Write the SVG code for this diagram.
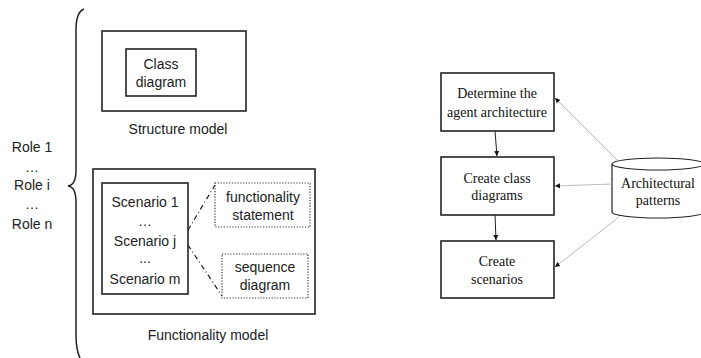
<svg xmlns="http://www.w3.org/2000/svg" width="701" height="358" viewBox="0 0 701 358">
<style>
.s{font-family:"Liberation Sans","Open Sans",sans-serif;font-size:14px;fill:#222;text-anchor:middle}
.t{font-family:"Liberation Serif","Times New Roman",serif;font-size:14px;fill:#111;text-anchor:middle}
.box{fill:#fff;stroke:#222;stroke-width:1.6}
.dot{fill:none;stroke:#333;stroke-width:1.2;stroke-dasharray:1.2 1.6}
.dd{fill:none;stroke:#222;stroke-width:1.2;stroke-dasharray:5 3 1 3}
.blk{fill:none;stroke:#222;stroke-width:1}
.gry{fill:none;stroke:#aaa;stroke-width:0.8}
</style>
<defs>
<marker id="ab" markerWidth="6" markerHeight="6" refX="5" refY="3" orient="auto" markerUnits="userSpaceOnUse"><path d="M0,0.5 L5,3 L0,5.5z" fill="#111"/></marker>
</defs>
<rect width="701" height="358" fill="#fff"/>
<g id="brace"><path d="M84,9 Q76,12 76,30 L76,170 Q76,185 68,186 Q76,187 76,202 L76,335 Q76,350 80,358" fill="none" stroke="#222" stroke-width="1.5"/></g>
<g id="roles">
<text class="s" x="32" y="152">Role 1</text>
<text class="s" x="32" y="172">…</text>
<text class="s" x="32" y="190">Role i</text>
<text class="s" x="32" y="209">…</text>
<text class="s" x="32" y="229">Role n</text>
</g>
<g id="structure">
<rect class="box" x="102" y="31" width="144" height="80"/>
<rect class="box" x="126" y="49" width="70" height="47"/>
<text class="s" x="161" y="69">Class</text>
<text class="s" x="161" y="87">diagram</text>
<text class="s" x="178" y="134">Structure model</text>
</g>
<g id="functionality">
<rect class="box" x="93" y="169" width="222" height="145"/>
<rect class="box" x="102" y="183" width="86" height="111"/>
<text class="s" x="145" y="207">Scenario 1</text>
<text class="s" x="145" y="226">…</text>
<text class="s" x="145" y="246">Scenario j</text>
<text class="s" x="145" y="263">...</text>
<text class="s" x="145" y="284">Scenario m</text>
<text class="s" x="208" y="340">Functionality model</text>
</g>
<g id="fstatement">
<rect class="dot" x="215" y="183" width="95" height="44"/>
<text class="s" x="263" y="202">functionality</text>
<text class="s" x="263" y="220">statement</text>
</g>
<g id="seqdiagram">
<rect class="dot" x="222" y="254" width="86" height="44"/>
<text class="s" x="265" y="272">sequence</text>
<text class="s" x="265" y="290">diagram</text>
</g>
<g id="n1">
<rect class="box" x="441" y="73" width="113" height="58" stroke-width="1.2"/>
<text class="t" x="497" y="98">Determine the</text>
<text class="t" x="497" y="117">agent architecture</text>
</g>
<g id="n2">
<rect class="box" x="441" y="157" width="113" height="58" stroke-width="1.2"/>
<text class="t" x="497" y="183">Create class</text>
<text class="t" x="497" y="200">diagrams</text>
</g>
<g id="n3">
<rect class="box" x="441" y="241" width="113" height="57" stroke-width="1.2"/>
<text class="t" x="497" y="266">Create</text>
<text class="t" x="497" y="284">scenarios</text>
</g>
<g id="patterns">
<path d="M612,164 L612,212 A46,6 0 0 0 704,212 L704,164" fill="#fff" stroke="#222" stroke-width="1.2"/>
<ellipse cx="658" cy="164" rx="46" ry="6" fill="#fff" stroke="#222" stroke-width="1.2"/>
<text class="t" x="658" y="188">Architectural</text>
<text class="t" x="658" y="205">patterns</text>
</g>
<g id="connectors">
<path class="dd" d="M188,230 L215,185"/>
<path class="dd" d="M188,245 L222,296"/>
<path class="blk" d="M495,131 L497,156" marker-end="url(#ab)"/>
<path class="blk" d="M495,215 L496,240" marker-end="url(#ab)"/>
<path class="gry" d="M617,160 L555,98" marker-end="url(#ab)"/>
<path class="gry" d="M612,184 L555,186" marker-end="url(#ab)"/>
<path class="gry" d="M619,217 L555,267" marker-end="url(#ab)"/>
</g>
</svg>
